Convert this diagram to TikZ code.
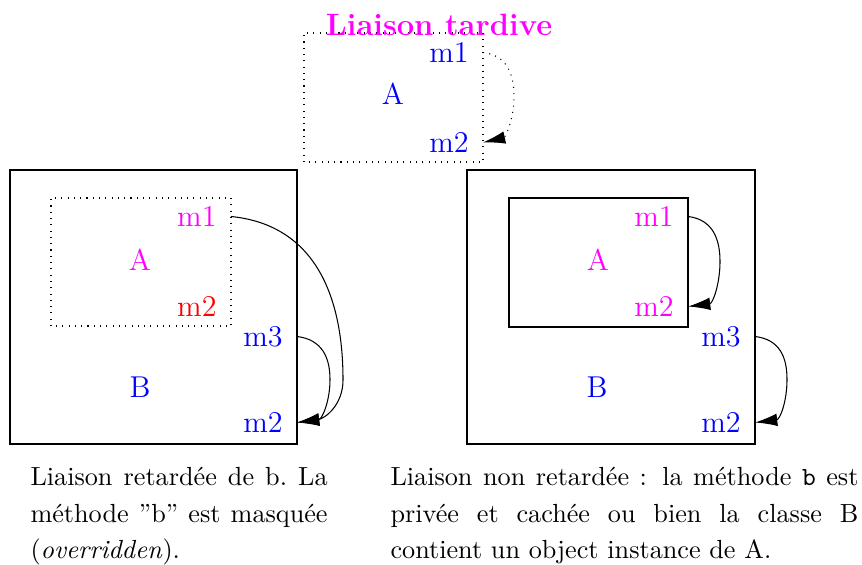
\documentclass[tikz,border=0pt]{standalone}
\usetikzlibrary{arrows.meta}
\definecolor{mag}{RGB}{255,0,255}
\definecolor{bleu}{RGB}{0,0,255}
\definecolor{rouge}{RGB}{255,0,0}
\begin{document}
\begin{tikzpicture}[
  x=0.3817pt,y=0.3817pt,
  meth/.style={anchor=east,inner xsep=5.3pt,font=\fontsize{11.5}{14}\selectfont},
  cls/.style={font=\fontsize{11.5}{14}\selectfont},
  legende/.style={anchor=north west,inner sep=0pt,align=justify,font=\fontsize{10}{13.9}\selectfont},
  a/.style={-{Latex[length=8.5pt,width=4.8pt]}}
]
\useasboundingbox (0,0) rectangle (862,565);

% liaison tardive
\draw[dotted] (304,403) rectangle (483,532);
\node[font=\fontsize{11.8}{14}\selectfont\bfseries,text=mag] (ttl) at (439,540) {Liaison tardive};
\node[cls,text=bleu] (tA) at (393,471) {A};
\node[meth,text=bleu] (tm1) at (483,512.5) {m1};
\node[meth,text=bleu] (tm2) at (483,422.5) {m2};
\coordinate (tk) at (514,467.5);
\draw[a,dotted] (tm1.east) .. controls +(25,-3) and +(0,22) .. (tk)
  .. controls +(0,-22) and +(22,5) .. (tm2.east);

% B herite de A
\draw (10,121) rectangle (297,395);
\draw[dotted] (51,239) rectangle (231,367);
\node[meth,text=mag] (lm1) at (231,348.5) {m1};
\node[cls,text=mag] (lA) at (140,305.5) {A};
\node[meth,text=rouge] (lm2) at (231,259) {m2};
\node[meth,text=bleu] (lm3) at (297,228.5) {m3};
\node[cls,text=bleu] (lB) at (140,177.5) {B};
\node[meth,text=bleu] (lm2b) at (297,142.5) {m2};
\coordinate (lk1) at (343,185);
\coordinate (lk3) at (330,185.5);
\draw[a] (lm1.east) .. controls +(80,-8) and +(0,90) .. (lk1)
  .. controls +(0,-25) and +(28,4) .. (lm2b.east);
\draw[a] (lm3.east) .. controls +(25,-3) and +(0,22) .. (lk3)
  .. controls +(0,-22) and +(25,3) .. (lm2b.east);

% B contient un A
\draw (467,121) rectangle (755,395);
\draw (509,238) rectangle (688,367);
\node[meth,text=mag] (rm1) at (688,348.5) {m1};
\node[cls,text=mag] (rA) at (598,305.5) {A};
\node[meth,text=mag] (rm2) at (688,258.5) {m2};
\node[meth,text=bleu] (rm3) at (755,228.5) {m3};
\node[cls,text=bleu] (rB) at (597,177.5) {B};
\node[meth,text=bleu] (rm2b) at (755,142.5) {m2};
\coordinate (rk1) at (720,303.5);
\coordinate (rk3) at (787,185.5);
\draw[a] (rm1.east) .. controls +(25,-3) and +(0,22) .. (rk1)
  .. controls +(0,-22) and +(25,3) .. (rm2.east);
\draw[a] (rm3.east) .. controls +(25,-3) and +(0,22) .. (rk3)
  .. controls +(0,-22) and +(25,3) .. (rm2b.east);

% legendes
\node[legende,text width=113.4pt] (lc) at (30,98) {\frenchspacing Liaison retardée de b. La\linebreak
  méthode ''b'' est masquée\linebreak (\emph{overridden}).};
\node[legende,text width=178.6pt] (rc) at (390,98) {Liaison non retardée : la méthode \texttt{b} est\linebreak
  privée et cachée ou bien la classe B\linebreak contient un object instance de A.};
\end{tikzpicture}
\end{document}
